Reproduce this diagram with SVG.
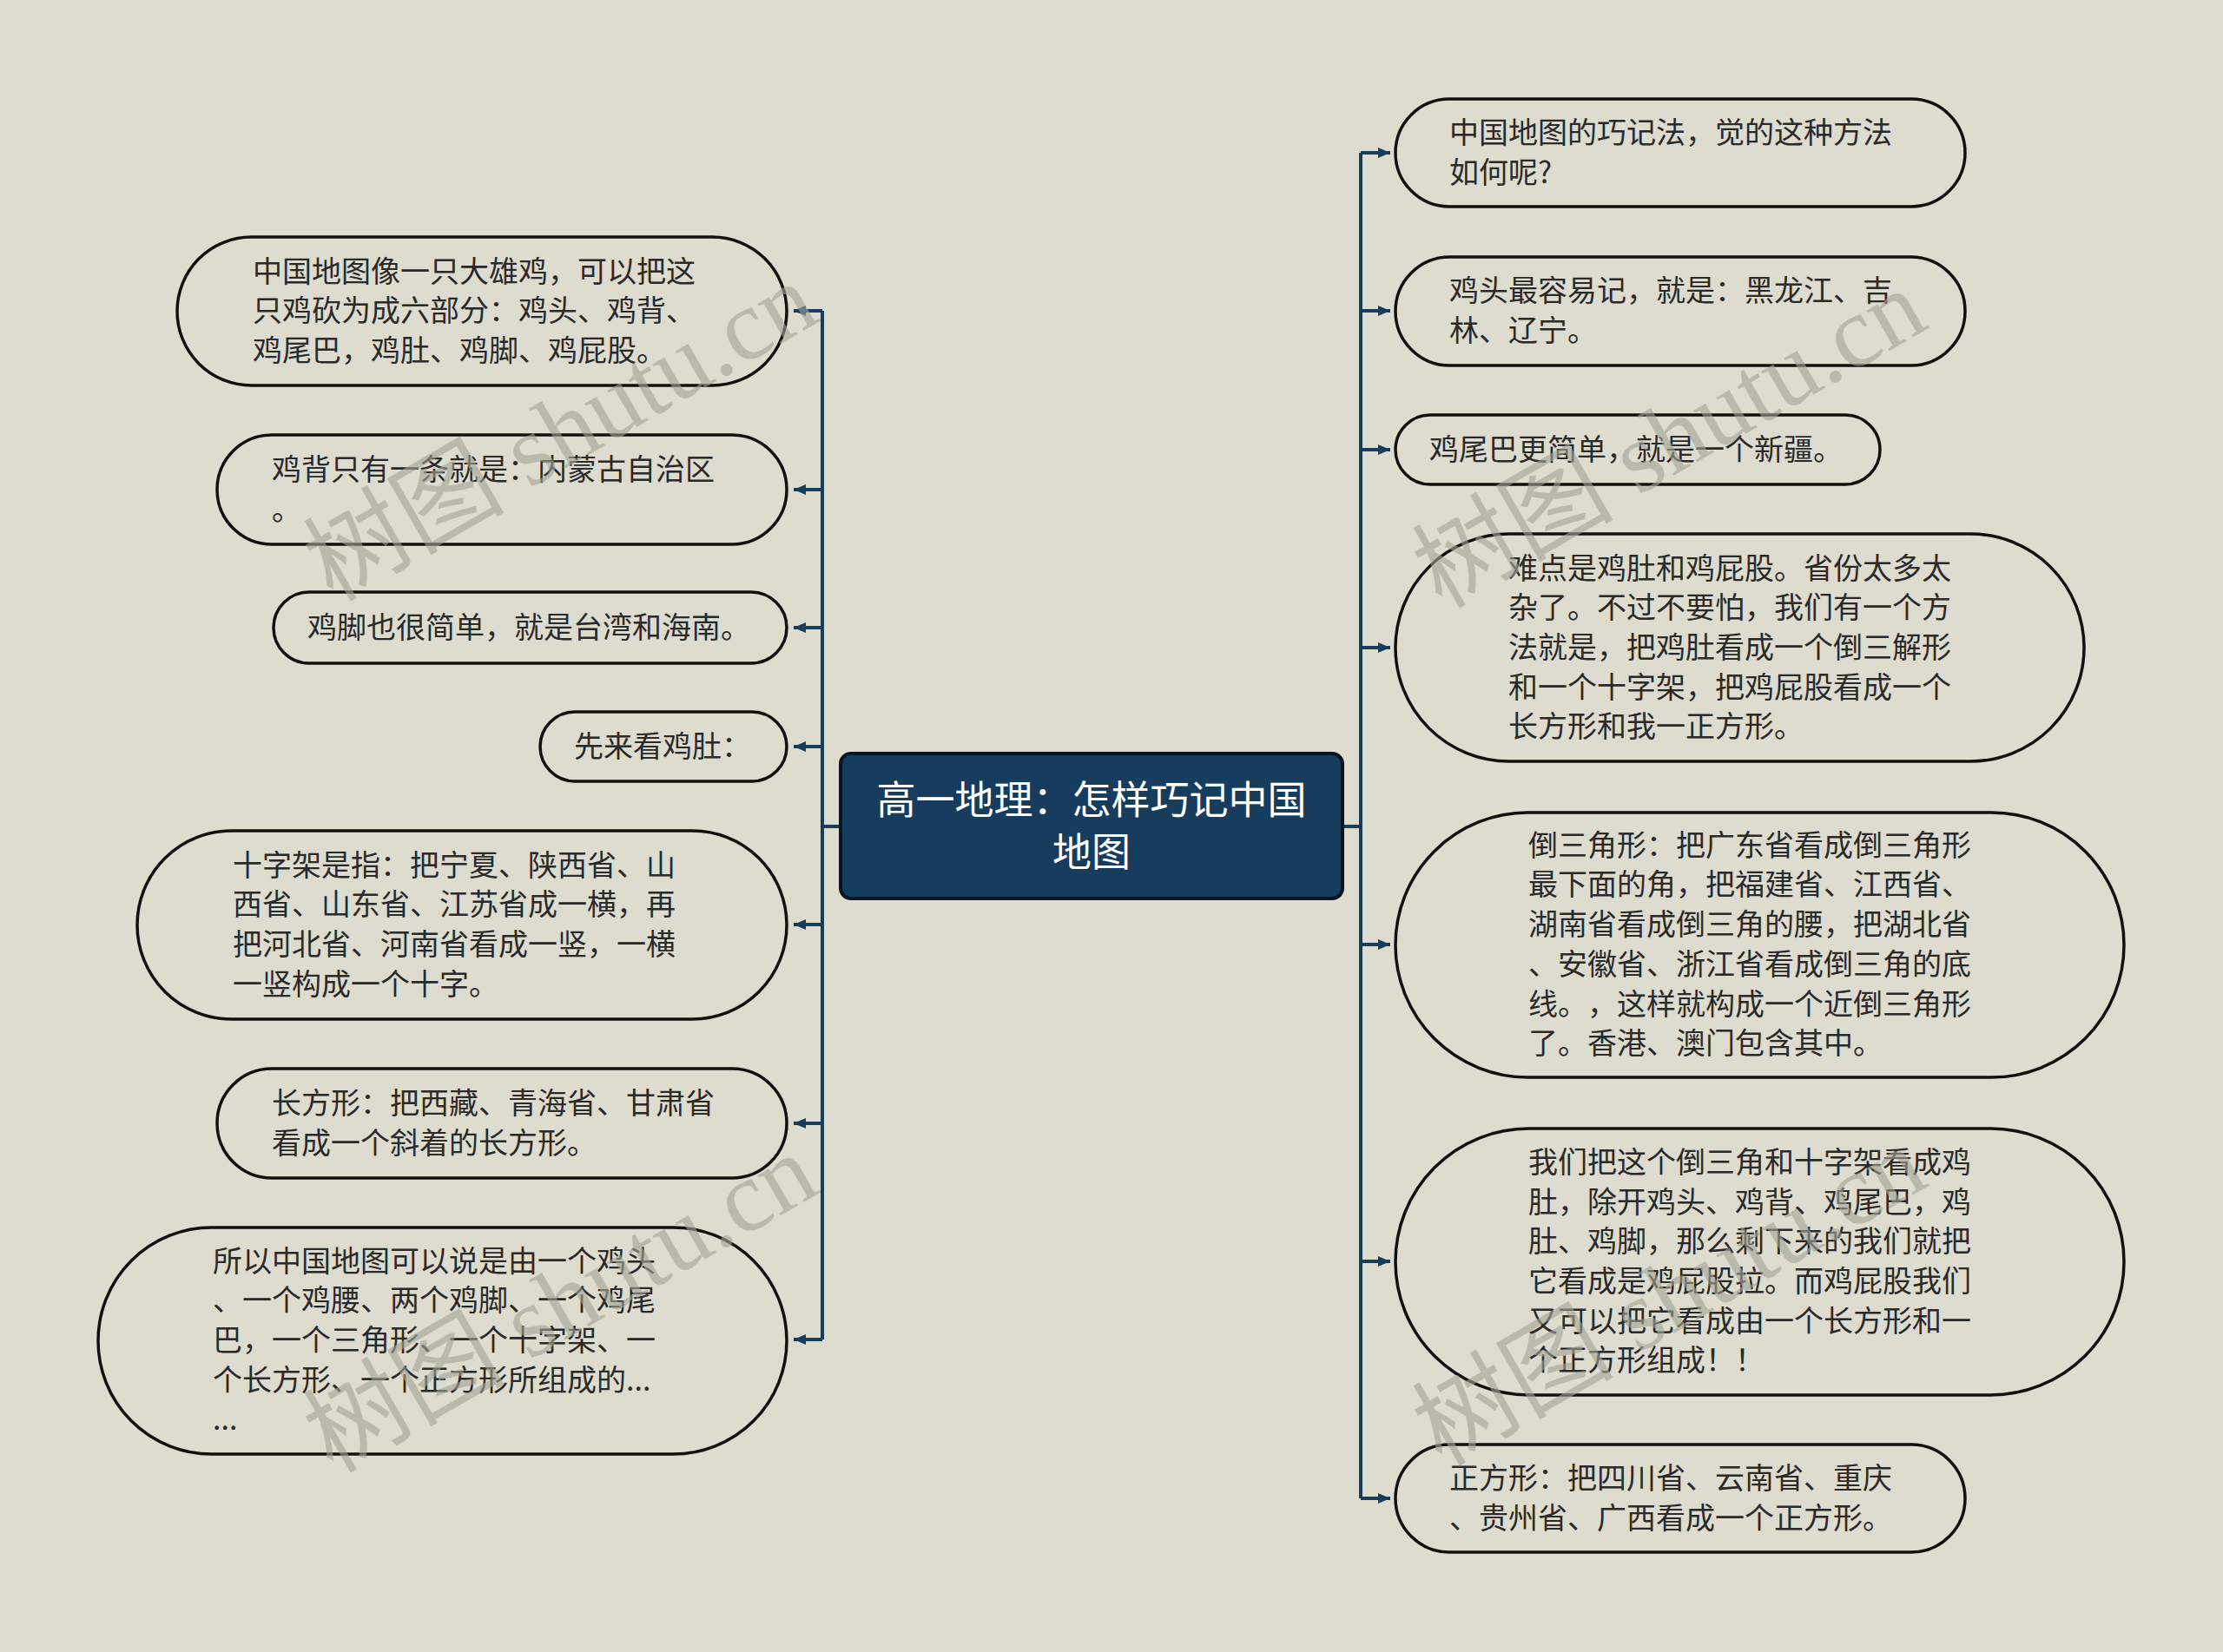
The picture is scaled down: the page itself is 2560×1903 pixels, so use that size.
<svg xmlns="http://www.w3.org/2000/svg" width="2560" height="1903" viewBox="0 0 2560 1903">
<defs>
<style>
.bg{fill:#dddccf}
.node{fill:#dddccf;stroke:#111;stroke-width:3.5}
.t{font-family:"Noto Sans CJK SC","Noto Sans",sans-serif;font-size:34px;fill:#2a2a2a;text-spacing-trim:space-all}
.ct{font-family:"Noto Sans CJK SC","Noto Sans",sans-serif;font-size:45px;fill:#ffffff;text-spacing-trim:space-all}
.edge{fill:none;stroke:#173d5c;stroke-width:4}
.wm{font-family:"Liberation Serif","Noto Sans CJK SC",serif;font-size:116px;fill:#a4a496;opacity:0.6}
</style>
<marker id="ah" markerUnits="userSpaceOnUse" markerWidth="14" markerHeight="12" viewBox="0 0 14 12" refX="14" refY="6" orient="auto">
<path d="M0,0 L14,6 L0,12 z" fill="#173d5c"/>
</marker>
</defs>
<rect class="bg" x="0" y="0" width="2560" height="1903"/>

<g id="connectors">
<path class="edge" d="M968,952 H947 M947,358 V1543 M1546,952 H1567 M1567,176 V1726"/>
<path class="edge" marker-end="url(#ah)" d="M947,358 H914"/>
<path class="edge" marker-end="url(#ah)" d="M947,564 H914"/>
<path class="edge" marker-end="url(#ah)" d="M947,723 H914"/>
<path class="edge" marker-end="url(#ah)" d="M947,860 H914"/>
<path class="edge" marker-end="url(#ah)" d="M947,1065 H914"/>
<path class="edge" marker-end="url(#ah)" d="M947,1294 H914"/>
<path class="edge" marker-end="url(#ah)" d="M947,1543 H914"/>
<path class="edge" marker-end="url(#ah)" d="M1567,176 H1601"/>
<path class="edge" marker-end="url(#ah)" d="M1567,358 H1601"/>
<path class="edge" marker-end="url(#ah)" d="M1567,518 H1601"/>
<path class="edge" marker-end="url(#ah)" d="M1567,746 H1601"/>
<path class="edge" marker-end="url(#ah)" d="M1567,1088 H1601"/>
<path class="edge" marker-end="url(#ah)" d="M1567,1453 H1601"/>
<path class="edge" marker-end="url(#ah)" d="M1567,1726 H1601"/>
</g>

<g id="center">
<rect x="968" y="868" width="578" height="167" rx="12" fill="#173d5e" stroke="#0b1520" stroke-width="4"/>
<text class="ct" x="1257" y="938" text-anchor="middle">高一地理：怎样巧记中国</text>
<text class="ct" x="1257" y="998" text-anchor="middle">地图</text>
</g>

<g id="L1">
<rect class="node" x="204" y="273" width="702" height="171" rx="85.5"/>
<text class="t" x="291" y="325">中国地图像一只大雄鸡，可以把这</text>
<text class="t" x="291" y="370">只鸡砍为成六部分：鸡头、鸡背、</text>
<text class="t" x="291" y="416">鸡尾巴，鸡肚、鸡脚、鸡屁股。</text>
</g>
<g id="L2">
<rect class="node" x="250" y="501" width="656" height="126" rx="63"/>
<text class="t" x="313" y="553">鸡背只有一条就是：内蒙古自治区</text>
<text class="t" x="313" y="599">。</text>
</g>
<g id="L3">
<rect class="node" x="315" y="682" width="591" height="82" rx="41"/>
<text class="t" x="354" y="735">鸡脚也很简单，就是台湾和海南。</text>
</g>
<g id="L4">
<rect class="node" x="622" y="820" width="284" height="80" rx="40"/>
<text class="t" x="661" y="872">先来看鸡肚：</text>
</g>
<g id="L5">
<rect class="node" x="158" y="957" width="748" height="217" rx="108.5"/>
<text class="t" x="268" y="1009">十字架是指：把宁夏、陕西省、山</text>
<text class="t" x="268" y="1054">西省、山东省、江苏省成一横，再</text>
<text class="t" x="268" y="1100">把河北省、河南省看成一竖，一横</text>
<text class="t" x="268" y="1146">一竖构成一个十字。</text>
</g>
<g id="L6">
<rect class="node" x="250" y="1231" width="656" height="126" rx="63"/>
<text class="t" x="313" y="1283">长方形：把西藏、青海省、甘肃省</text>
<text class="t" x="313" y="1329">看成一个斜着的长方形。</text>
</g>
<g id="L7">
<rect class="node" x="113" y="1414" width="793" height="261" rx="130.5"/>
<text class="t" x="245" y="1465">所以中国地图可以说是由一个鸡头</text>
<text class="t" x="245" y="1510">、一个鸡腰、两个鸡脚、一个鸡尾</text>
<text class="t" x="245" y="1556">巴，一个三角形、一个十字架、一</text>
<text class="t" x="245" y="1602">个长方形、一个正方形所组成的...</text>
<text class="t" x="245" y="1647">...</text>
</g>

<g id="R1">
<rect class="node" x="1607" y="114" width="656" height="124" rx="62"/>
<text class="t" x="1669" y="165">中国地图的巧记法，觉的这种方法</text>
<text class="t" x="1669" y="211">如何呢?</text>
</g>
<g id="R2">
<rect class="node" x="1607" y="296" width="656" height="125" rx="62.5"/>
<text class="t" x="1669" y="347">鸡头最容易记，就是：黑龙江、吉</text>
<text class="t" x="1669" y="393">林、辽宁。</text>
</g>
<g id="R3">
<rect class="node" x="1607" y="478" width="558" height="80" rx="40"/>
<text class="t" x="1646" y="530">鸡尾巴更简单，就是一个新疆。</text>
</g>
<g id="R4">
<rect class="node" x="1607" y="615" width="793" height="262" rx="131"/>
<text class="t" x="1737" y="667">难点是鸡肚和鸡屁股。省份太多太</text>
<text class="t" x="1737" y="712">杂了。不过不要怕，我们有一个方</text>
<text class="t" x="1737" y="758">法就是，把鸡肚看成一个倒三解形</text>
<text class="t" x="1737" y="804">和一个十字架，把鸡屁股看成一个</text>
<text class="t" x="1737" y="849">长方形和我一正方形。</text>
</g>
<g id="R5">
<rect class="node" x="1607" y="936" width="839" height="305" rx="152.5"/>
<text class="t" x="1760" y="986">倒三角形：把广东省看成倒三角形</text>
<text class="t" x="1760" y="1031">最下面的角，把福建省、江西省、</text>
<text class="t" x="1760" y="1077">湖南省看成倒三角的腰，把湖北省</text>
<text class="t" x="1760" y="1123">、安徽省、浙江省看成倒三角的底</text>
<text class="t" x="1760" y="1169">线。，这样就构成一个近倒三角形</text>
<text class="t" x="1760" y="1214">了。香港、澳门包含其中。</text>
</g>
<g id="R6">
<rect class="node" x="1607" y="1300" width="839" height="307" rx="153.5"/>
<text class="t" x="1760" y="1351">我们把这个倒三角和十字架看成鸡</text>
<text class="t" x="1760" y="1397">肚，除开鸡头、鸡背、鸡尾巴，鸡</text>
<text class="t" x="1760" y="1442">肚、鸡脚，那么剩下来的我们就把</text>
<text class="t" x="1760" y="1488">它看成是鸡屁股拉。而鸡屁股我们</text>
<text class="t" x="1760" y="1534">又可以把它看成由一个长方形和一</text>
<text class="t" x="1760" y="1579">个正方形组成！！</text>
</g>
<g id="R7">
<rect class="node" x="1607" y="1664" width="656" height="124" rx="62"/>
<text class="t" x="1669" y="1715">正方形：把四川省、云南省、重庆</text>
<text class="t" x="1669" y="1761">、贵州省、广西看成一个正方形。</text>
</g>

<g id="watermarks">
<text class="wm" transform="translate(383,694) rotate(-30)">树图 shutu.cn</text>
<text class="wm" transform="translate(383,1698) rotate(-30)">树图 shutu.cn</text>
<text class="wm" transform="translate(1660,702) rotate(-30)">树图 shutu.cn</text>
<text class="wm" transform="translate(1660,1690) rotate(-30)">树图 shutu.cn</text>
</g>
</svg>
